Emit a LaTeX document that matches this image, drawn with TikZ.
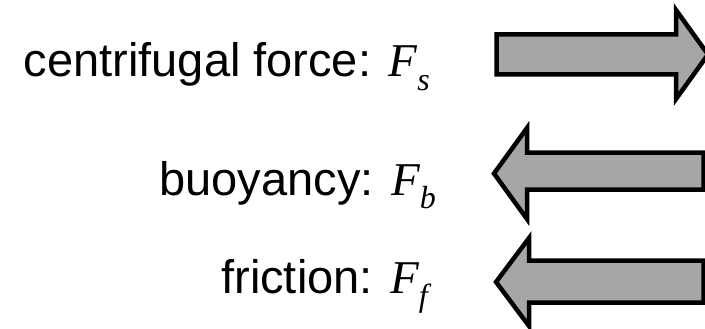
\documentclass[tikz,border=0pt]{standalone}
\usepackage{fontspec}
\setmainfont{Liberation Sans}
\newfontfamily\timesfont{Liberation Serif}
\definecolor{arrowgray}{HTML}{A6A6A6}
\newcommand{\forcesym}[1]{{\timesfont\itshape F\raisebox{-0.28em}{\fontsize{32}{34}\selectfont #1}}}

\begin{document}
\begin{tikzpicture}[x=1pt, y=-1pt,
      lbl/.style={font=\fontsize{47}{50}\selectfont, inner sep=0pt, anchor=base east},
      bigarrow/.style={draw=black, fill=arrowgray, line width=4.5pt, line join=miter}]
      \useasboundingbox (0,0) rectangle (705,329);
      % Labels
      \node[lbl] (fs) at (430,77) {centrifugal force: \forcesym{s}};
      \node[lbl] (fb) at (436,195) {buoyancy: \forcesym{b}};
      \node[lbl] (ff) at (428,293) {friction: \forcesym{f}};
      % Arrows
      \draw[bigarrow] (496.5,34.5) -- (676,34.5) -- (676,10) -- (708,54.5) -- (676,99) -- (676,74.5) -- (496.5,74.5) -- cycle;
      \draw[bigarrow] (703.5,152.5) -- (527,152.5) -- (527,128) -- (494,173.5) -- (527,219) -- (527,189.5) -- (703.5,189.5) -- cycle;
      \draw[bigarrow] (703.5,260.5) -- (529,260.5) -- (529,238) -- (496,282) -- (529,326) -- (529,302.5) -- (703.5,302.5) -- cycle;
   \end{tikzpicture}
\end{document}
